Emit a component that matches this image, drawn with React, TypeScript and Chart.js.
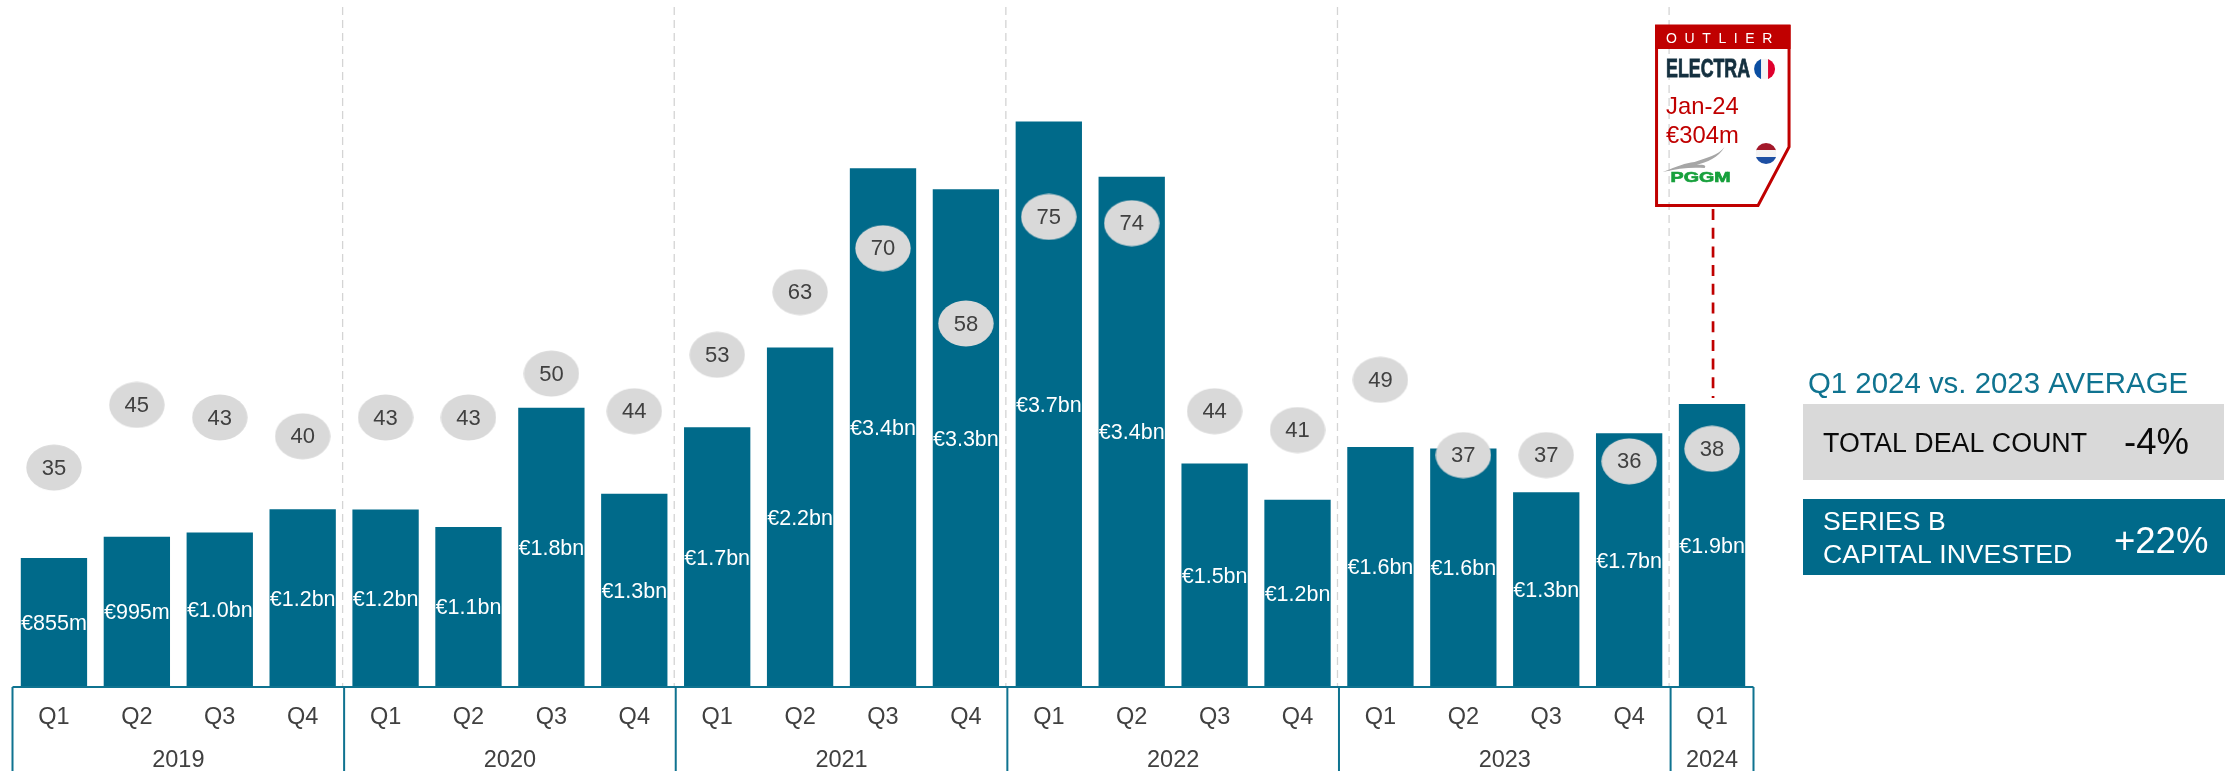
import React, { useEffect, useRef } from "react";
import { Chart, registerables } from "chart.js";

Chart.register(...registerables);

const quarters = ["Q1","Q2","Q3","Q4","Q1","Q2","Q3","Q4","Q1","Q2","Q3","Q4","Q1","Q2","Q3","Q4","Q1","Q2","Q3","Q4","Q1"];
const years = ["2019","2020","2021","2022","2023","2024"];
const quartersPerYear = [4,4,4,4,4,1];
// Capital invested per quarter, in € billions
const capitalBn = [0.855,0.995,1.024,1.177,1.175,1.06,1.849,1.28,1.72,2.249,3.435,3.296,3.745,3.38,1.48,1.24,1.59,1.58,1.29,1.68,1.874];
// Deals closed per quarter
const dealCounts = [35,45,43,40,43,43,50,44,53,63,70,58,75,74,44,41,49,37,37,36,38];

const BLUE = "#006A8A";
const FRAME = "#0F7390";
const RED = "#C00000";
const GREY = "#D9D9D9";
const TEXT = "#404040";
const FONT = '"Liberation Sans", Arial, sans-serif';

const formatCapital = (v: number) =>
  v < 1 ? `€${Math.round(v * 1000)}m` : `€${v.toFixed(1)}bn`;

function makeEllipse() {
  const c = document.createElement("canvas");
  c.width = 56;
  c.height = 47;
  const g = c.getContext("2d")!;
  g.fillStyle = GREY;
  g.beginPath();
  g.ellipse(28, 23.5, 27.7, 22.9, 0, 0, Math.PI * 2);
  g.fill();
  return c;
}

function drawDisc(ctx: CanvasRenderingContext2D, cx: number, cy: number, r: number, colors: string[], vertical: boolean) {
  ctx.save();
  ctx.beginPath();
  ctx.arc(cx, cy, r, 0, Math.PI * 2);
  ctx.clip();
  const step = (2 * r) / colors.length;
  colors.forEach((col, i) => {
    ctx.fillStyle = col;
    if (vertical) ctx.fillRect(cx - r + i * step, cy - r, step + 0.5, 2 * r);
    else ctx.fillRect(cx - r, cy - r + i * step, 2 * r, step + 0.5);
  });
  ctx.restore();
}

function drawCallout(ctx: CanvasRenderingContext2D, anchorX: number, barTop: number) {
  const left = anchorX - 56.5;
  const right = anchorX + 76;
  const top = 26;
  const bottom = 205.5;
  ctx.save();
  // connector from the callout down to the bar it refers to
  ctx.strokeStyle = RED;
  ctx.lineWidth = 2.7;
  ctx.setLineDash([11, 7.7]);
  ctx.beginPath();
  ctx.moveTo(anchorX, 209);
  ctx.lineTo(anchorX, barTop - 6);
  ctx.stroke();
  ctx.setLineDash([]);
  // open card outline with a clipped lower-right corner
  ctx.strokeStyle = RED;
  ctx.lineWidth = 3;
  ctx.beginPath();
  ctx.moveTo(left, top);
  ctx.lineTo(right, top);
  ctx.lineTo(right, 147);
  ctx.lineTo(anchorX + 45, bottom);
  ctx.lineTo(left, bottom);
  ctx.closePath();
  ctx.stroke();
  ctx.fillStyle = RED;
  ctx.fillRect(left - 1.5, 25, right - left + 3, 24);
  ctx.fillStyle = "#FFFFFF";
  ctx.font = `14px ${FONT}`;
  ctx.textAlign = "left";
  ctx.textBaseline = "alphabetic";
  (ctx as any).letterSpacing = "7.6px";
  ctx.fillText("OUTLIER", left + 9.5, 43);
  (ctx as any).letterSpacing = "0px";

  ctx.fillStyle = "#14303F";
  ctx.strokeStyle = "#14303F";
  ctx.lineWidth = 0.8;
  ctx.font = `bold 25px ${FONT}`;
  ctx.fillText("ELECTRA", left + 9.5, 77, 84);
  ctx.strokeText("ELECTRA", left + 9.5, 77, 84);
  drawDisc(ctx, anchorX + 51.5, 69, 10.5, ["#0B4EA2", "#F4F4F4", "#E0002D"], true);

  ctx.fillStyle = RED;
  ctx.font = `23.8px ${FONT}`;
  ctx.fillText("Jan-24", left + 9.5, 114);
  ctx.fillText("€304m", left + 9.5, 143);
  drawDisc(ctx, anchorX + 53, 153.5, 10.5, ["#A3182A", "#F4F4F4", "#1D4FA3"], false);

  // gull mark above the PGGM wordmark
  ctx.fillStyle = "#A6A6A6";
  ctx.beginPath();
  ctx.moveTo(left + 6, 172);
  ctx.bezierCurveTo(left + 22, 166, left + 28, 163, left + 38, 162);
  ctx.bezierCurveTo(left + 50, 158, left + 62, 155, left + 68, 147);
  ctx.bezierCurveTo(left + 62, 158, left + 50, 162, left + 40, 165);
  ctx.bezierCurveTo(left + 48, 164, left + 50, 166, left + 48, 168);
  ctx.bezierCurveTo(left + 36, 167, left + 22, 168, left + 6, 172);
  ctx.fill();

  ctx.save();
  ctx.translate(left + 14, 182);
  ctx.scale(1.31, 1);
  ctx.fillStyle = "#17A03C";
  ctx.strokeStyle = "#17A03C";
  ctx.lineWidth = 0.7;
  ctx.font = `bold 15px ${FONT}`;
  ctx.fillText("PGGM", 0, 0);
  ctx.strokeText("PGGM", 0, 0);
  ctx.restore();
  ctx.restore();
}

function drawSummary(ctx: CanvasRenderingContext2D) {
  ctx.save();
  ctx.textAlign = "left";
  ctx.textBaseline = "alphabetic";
  ctx.fillStyle = FRAME;
  ctx.font = `29.4px ${FONT}`;
  ctx.fillText("Q1 2024 vs. 2023 AVERAGE", 1808, 393);

  ctx.fillStyle = GREY;
  ctx.fillRect(1803, 404, 421, 76);
  ctx.fillStyle = "#0A0A0A";
  ctx.font = `26.8px ${FONT}`;
  ctx.fillText("TOTAL DEAL COUNT", 1823, 452);
  ctx.font = `36.5px ${FONT}`;
  ctx.fillText("-4%", 2124, 454);

  ctx.fillStyle = BLUE;
  ctx.fillRect(1803, 499, 422, 76);
  ctx.fillStyle = "#FFFFFF";
  ctx.font = `26.6px ${FONT}`;
  ctx.fillText("SERIES B", 1823, 530);
  ctx.fillText("CAPITAL INVESTED", 1823, 563);
  ctx.font = `36.5px ${FONT}`;
  ctx.fillText("+22%", 2114, 553);
  ctx.restore();
}

// Draws the year dividers behind the bars
const yearSeparators = {
  id: "yearSeparators",
  beforeDatasetsDraw(chart: any) {
    const { ctx, chartArea, scales } = chart;
    const step = scales.x.getPixelForValue(1) - scales.x.getPixelForValue(0);
    let idx = 0;
    ctx.save();
    ctx.strokeStyle = "#D4D4D4";
    ctx.lineWidth = 1.3;
    ctx.setLineDash([8, 5]);
    quartersPerYear.slice(0, -1).forEach((n) => {
      idx += n;
      const x = scales.x.getPixelForValue(idx) - step / 2 - 1.5;
      ctx.beginPath();
      ctx.moveTo(x, 7);
      ctx.lineTo(x, chartArea.bottom);
      ctx.stroke();
    });
    ctx.restore();
  },
};

// Value labels, bubble labels, year brackets, callout and summary boxes
const annotations = {
  id: "annotations",
  afterDatasetsDraw(chart: any) {
    const { ctx, chartArea, scales } = chart;
    const bars = chart.getDatasetMeta(1).data;
    const pts = chart.getDatasetMeta(0).data;
    ctx.save();
    ctx.textAlign = "center";
    ctx.textBaseline = "middle";
    ctx.font = `21.5px ${FONT}`;
    bars.forEach((b: any, i: number) => {
      ctx.fillStyle = "#FFFFFF";
      ctx.fillText(formatCapital(capitalBn[i]), b.x, (b.y + b.base) / 2 + 1.5);
    });
    ctx.font = `22px ${FONT}`;
    pts.forEach((p: any, i: number) => {
      ctx.fillStyle = TEXT;
      ctx.fillText(String(dealCounts[i]), p.x, p.y + 1);
    });

    const step = scales.x.getPixelForValue(1) - scales.x.getPixelForValue(0);
    const edge = (i: number) => scales.x.getPixelForValue(i) - step / 2;
    ctx.strokeStyle = FRAME;
    ctx.lineWidth = 2;
    ctx.beginPath();
    ctx.moveTo(chartArea.left, chartArea.bottom);
    ctx.lineTo(chartArea.right, chartArea.bottom);
    let idx = 0;
    ctx.moveTo(edge(0), chartArea.bottom);
    ctx.lineTo(edge(0), chart.height);
    ctx.font = `23.5px ${FONT}`;
    ctx.textBaseline = "alphabetic";
    quartersPerYear.forEach((n, k) => {
      const start = idx;
      idx += n;
      ctx.moveTo(edge(idx), chartArea.bottom);
      ctx.lineTo(edge(idx), chart.height);
      ctx.fillStyle = TEXT;
      ctx.fillText(years[k], (edge(start) + edge(idx)) / 2, 767);
    });
    ctx.stroke();
    ctx.restore();

    const last = bars[bars.length - 1];
    drawCallout(ctx, last.x + 1, last.y);
    drawSummary(ctx);
  },
};

export default function App() {
  const ref = useRef<HTMLCanvasElement>(null);
  useEffect(() => {
    document.body.style.margin = "0";
    const chart = new Chart(ref.current!, {
      type: "bar",
      data: {
        labels: quarters,
        datasets: [
          {
            type: "line",
            label: "Deal count",
            data: dealCounts,
            yAxisID: "deals",
            showLine: false,
            pointStyle: makeEllipse() as any,
            order: 0,
          },
          {
            type: "bar",
            label: "Capital invested",
            data: capitalBn,
            yAxisID: "capital",
            backgroundColor: BLUE,
            barPercentage: 0.8,
            categoryPercentage: 1,
            order: 1,
          },
        ],
      },
      options: {
        responsive: false,
        animation: false,
        layout: { autoPadding: false, padding: { left: 12.5, right: 2234 - 1753.5, top: 0, bottom: 0 } },
        plugins: { legend: { display: false }, title: { display: false }, tooltip: { enabled: false } },
        scales: {
          x: {
            grid: { display: false, drawTicks: false },
            border: { display: false },
            ticks: {
              color: TEXT,
              font: { family: "Liberation Sans", size: 23.5 },
              padding: 16,
              maxRotation: 0,
              autoSkip: false,
            },
            afterFit: (s: any) => {
              s.height = 84;
            },
          },
          capital: { display: false, min: 0, max: 4.55 },
          deals: { display: false, min: 0, max: 109.6 },
        },
      },
      plugins: [yearSeparators, annotations],
    } as any);
    return () => chart.destroy();
  }, []);
  return <canvas ref={ref} width={2234} height={771} style={{ display: "block" }} />;
}
